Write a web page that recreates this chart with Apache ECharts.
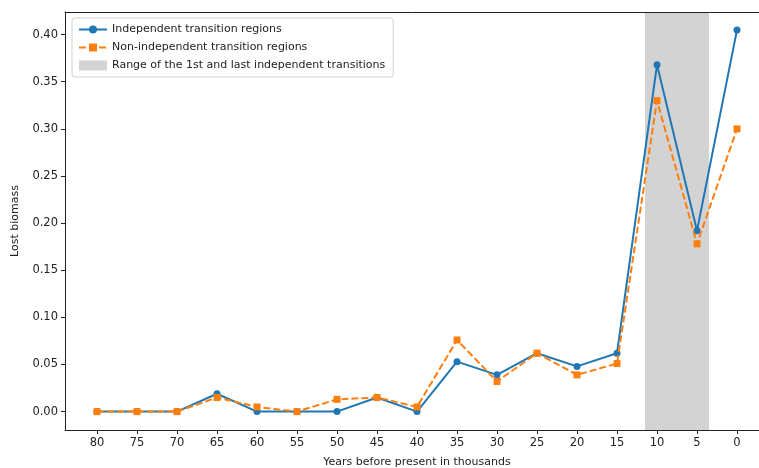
<!DOCTYPE html>
<html>
<head>
<meta charset="utf-8">
<script src="https://cdn.jsdelivr.net/npm/echarts@6/dist/echarts.min.js"></script>
<style>
  html, body { margin: 0; padding: 0; background: #fff; }
  #chart { width: 759px; height: 468px; }
</style>
</head>
<body>
<div id="chart"></div>
<script>
// years before present (thousands)
var years = [80, 75, 70, 65, 60, 55, 50, 45, 40, 35, 30, 25, 20, 15, 10, 5, 0];
var independent = [0, 0, 0, 0.019, 0, 0, 0, 0.015, 0, 0.053, 0.039, 0.062, 0.048, 0.062, 0.368, 0.192, 0.405];
var nonIndependent = [0, 0, 0, 0.015, 0.005, 0, 0.013, 0.015, 0.005, 0.076, 0.032, 0.062, 0.039, 0.051, 0.330, 0.178, 0.300];
var shadeRange = [11.5, 3.5];
var yTicks = [0, 0.05, 0.10, 0.15, 0.20, 0.25, 0.30, 0.35, 0.40];

function pairs(vals) {
  return years.map(function (y, i) { return [y, vals[i]]; });
}

var myChart = echarts.init(document.getElementById("chart"));
var font = "DejaVu Sans";
var options = {
  animation: false,
  textStyle: { fontFamily: font },
  grid: {
    left: 65,
    top: 12,
    width: 704,
    height: 418,
    outerBoundsMode: "none",
    containLabel: false,
    show: false,
  },
  legend: {
    orient: "vertical",
    left: 72,
    top: 18,
    itemWidth: 28,
    itemHeight: 10,
    itemGap: 7,
    padding: [6, 8, 6, 6],
    borderColor: "#d0d0d0",
    borderWidth: 1,
    borderRadius: 3,
    backgroundColor: "rgba(255,255,255,0.8)",
    textStyle: { fontFamily: font, fontSize: 11, color: "#222" },
    data: [
      { name: "Independent transition regions" },
      { name: "Non-independent transition regions" },
      { name: "Range of the 1st and last independent transitions", icon: "rect" },
    ],
  },
  xAxis: [
    {
      type: "value",
      inverse: true,
      min: -4,
      max: 84,
      name: "Years before present in thousands",
      nameLocation: "middle",
      nameGap: 27,
      nameTextStyle: { fontFamily: font, fontSize: 11, color: "#222" },
      splitLine: { show: false },
      axisLine: { onZero: false, lineStyle: { color: "#222" } },
      axisTick: { show: true, length: 4, customValues: years, lineStyle: { color: "#222" } },
      axisLabel: { customValues: years, fontSize: 11.5, color: "#222", margin: 7 },
      z: 5,
    },
    {
      // top frame line
      type: "value",
      position: "top",
      inverse: true,
      min: -4,
      max: 84,
      splitLine: { show: false },
      axisLine: { onZero: false, lineStyle: { color: "#222" } },
      axisTick: { show: false },
      axisLabel: { show: false },
      z: 5,
    },
  ],
  yAxis: [
    {
      type: "value",
      min: -0.0195,
      max: 0.424,
      name: "Lost biomass",
      nameLocation: "middle",
      nameGap: 44,
      nameTextStyle: { fontFamily: font, fontSize: 11, color: "#222" },
      splitLine: { show: false },
      axisLine: { show: true, onZero: false, lineStyle: { color: "#222" } },
      axisTick: { show: true, length: 4, customValues: yTicks, lineStyle: { color: "#222" } },
      axisLabel: {
        customValues: yTicks,
        fontSize: 11.5,
        color: "#222",
        margin: 7,
        formatter: function (v) { return v.toFixed(2); },
      },
      z: 5,
    },
  ],
  series: [
    {
      name: "Range of the 1st and last independent transitions",
      type: "line",
      data: [],
      itemStyle: { color: "#d3d3d3" },
      lineStyle: { color: "#d3d3d3" },
      markArea: {
        silent: true,
        itemStyle: { color: "#d3d3d3" },
        data: [[{ xAxis: shadeRange[0] }, { xAxis: shadeRange[1] }]],
      },
      z: 1,
    },
    {
      name: "Independent transition regions",
      type: "line",
      data: pairs(independent),
      symbol: "circle",
      symbolSize: 7,
      itemStyle: { color: "#1f77b4" },
      lineStyle: { color: "#1f77b4", width: 2 },
      z: 3,
    },
    {
      name: "Non-independent transition regions",
      type: "line",
      data: pairs(nonIndependent),
      symbol: "rect",
      symbolSize: 7,
      itemStyle: { color: "#ff7f0e" },
      lineStyle: { color: "#ff7f0e", width: 2, type: [7, 3] },
      z: 4,
    },
  ],
};
myChart.setOption(options);
</script>
</body>
</html>
